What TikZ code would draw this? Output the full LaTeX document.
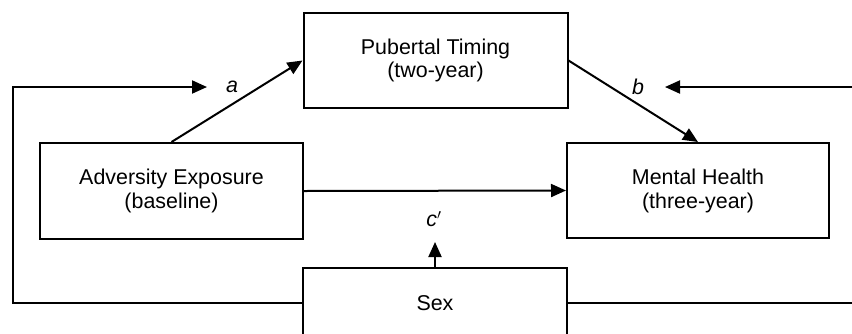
\documentclass[tikz,border=0pt]{standalone}
\usepackage{fontspec}
\setmainfont{Liberation Sans}
\usepackage{tikz}
\usetikzlibrary{calc}
\usetikzlibrary{arrows.meta}
\usetikzlibrary{positioning}

\begin{document}
\begin{tikzpicture}[x=1bp, y=-1bp, line width=2bp,
        varbox/.style={draw, rectangle, align=center, inner sep=0pt,
                       font=\fontsize{21.5}{24}\selectfont},
        path/.style={-{Triangle[length=15bp, width=13bp]}},
        coef/.style={font=\fontsize{21.5}{24}\selectfont\itshape}]
            \useasboundingbox (0,0) rectangle (852,333);
            % variables
            \node[varbox, minimum width=264bp, minimum height=95bp] (pt)  at (435.5,  60.5) {Pubertal Timing\\(two-year)};
            \node[varbox, minimum width=263bp, minimum height=96bp] (ae)  at (171.5, 191.0) {Adversity Exposure\\(baseline)};
            \node[varbox, minimum width=262bp, minimum height=95bp] (mh)  at (698.0, 190.5) {Mental Health\\(three-year)};
            \node[varbox, minimum width=264bp, minimum height=70bp] (sex) at (435.0, 303.0) {Sex};
            % covariate lines
            \coordinate (lcorner) at ( 13, 87);
            \coordinate (ltip)    at (207, 87);
            \coordinate (rcorner) at (860, 87);
            \coordinate (rtip)    at (665, 87);
            \coordinate (ctip)    at (435, 242);
            % paths
            \draw[path] (ae.north) -- (pt.west);
            \draw[path] (pt.east)  -- (mh.north);
            \draw[path] (ae.east)  -- (mh.west);
            \draw[path] (sex.north) -- (ctip);
            \draw[path] (sex.west) -| (lcorner) -- (ltip);
            \draw[path] (sex.east) -| (rcorner) -- (rtip);
            % coefficients
            \node[coef] (alab) at (232,  87) {a};
            \node[coef] (blab) at (638,  87) {b};
            \node[coef] (clab) at (434, 219) {c$'$};
        \end{tikzpicture}
\end{document}
